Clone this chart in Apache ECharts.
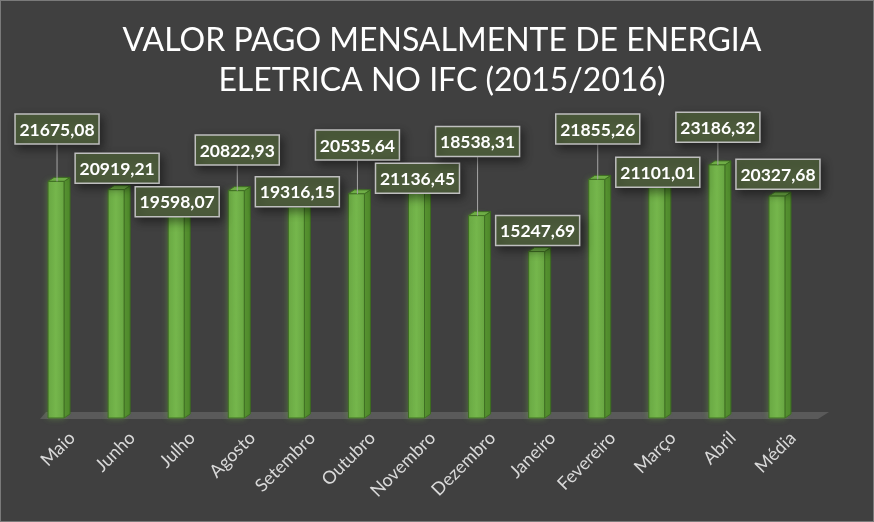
<!DOCTYPE html>
<html>
<head>
<meta charset="utf-8">
<script src="https://cdn.jsdelivr.net/npm/echarts@6/dist/echarts.min.js"></script>
<style>
  html, body { margin: 0; padding: 0; background: #404040; }
  #wrap { position: relative; width: 874px; height: 522px; }
  #chart { position: absolute; left: 0; top: 0; width: 874px; height: 522px; }
  #frame { position: absolute; left: 0; top: 0; width: 874px; height: 522px; box-sizing: border-box; border: 1px solid #7a7a7a; pointer-events: none; }
</style>
</head>
<body>
<div id="wrap"><div id="chart"></div><div id="frame"></div></div>
<script>
const titleLines = ['VALOR PAGO MENSALMENTE DE ENERGIA', 'ELETRICA NO IFC (2015/2016)'];
const categories = ['Maio', 'Junho', 'Julho', 'Agosto', 'Setembro', 'Outubro', 'Novembro', 'Dezembro', 'Janeiro', 'Fevereiro', 'Março', 'Abril', 'Média'];
const values = [21675.08, 20919.21, 19598.07, 20822.93, 19316.15, 20535.64, 21136.45, 18538.31, 15247.69, 21855.26, 21101.01, 23186.32, 20327.68];
// vertical lift (px) of each data-label box bottom above its bar top
const labelLift = [37.5, 6.4, -12.6, 25.8, 0.5, 33.9, -5.9, 59, 6, 35.5, 0.4, 22.7, 6.9];

function fmt(v) { return v.toFixed(2).replace('.', ','); }

const chart = echarts.init(document.getElementById('chart'), null, { renderer: 'canvas' });
const barData = values.map((v, i) => [i, v]);
const DX = 6, DY = 4, HALF = 8;

function renderFloor(params, api) {
  const band = api.size([1, 0])[0];
  const l = api.coord([0, 0])[0] - band / 2;
  const r = api.coord([categories.length - 1, 0])[0] + band / 2;
  const y = api.coord([0, 0])[1] + 1;
  return {
    type: 'polygon',
    shape: { points: [[l + 14, y], [r + 11, y], [r + 22, y - 7], [l + 20, y - 7]] },
    style: { fill: '#5a5a5a' }
  };
}

function renderBar(params, api) {
  const i = api.value(0), v = api.value(1);
  const top = api.coord([i, v]);
  const base = api.coord([i, 0]);
  const c = top[0], t = top[1], b = base[1];
  const x0 = c - HALF, x1 = c + HALF;
  return {
    type: 'group',
    children: [
      { type: 'polygon', shape: { points: [[x1, t], [x1 + DX, t - DY], [x1 + DX, b - DY], [x1, b]] },
        style: { fill: '#4f8a2b', stroke: '#3c6b20', lineWidth: 1 } },
      { type: 'polygon', shape: { points: [[x0, t], [x0 + DX, t - DY], [x1 + DX, t - DY], [x1, t]] },
        style: { fill: '#6fae47', stroke: '#3c6b20', lineWidth: 1 } },
      { type: 'rect', shape: { x: x0, y: t, width: x1 - x0, height: b - t },
        style: {
          fill: new echarts.graphic.LinearGradient(0, 0, 1, 0, [
            { offset: 0, color: '#69a843' }, { offset: 0.5, color: '#76b74d' }, { offset: 1, color: '#67a541' }
          ]),
          stroke: '#3f6e23', lineWidth: 1,
          shadowBlur: 6, shadowColor: 'rgba(112,173,71,0.45)'
        } }
    ]
  };
}

function renderLabel(params, api) {
  const i = api.value(0), v = api.value(1);
  const top = api.coord([i, v]);
  const c = top[0] + 1;
  const lift = labelLift[i];
  const bw = 84, bh = 30;
  const bottom = top[1] - lift;
  const children = [];
  if (lift > 12) {
    children.push({ type: 'line', shape: { x1: c, y1: bottom, x2: c, y2: top[1] },
      style: { stroke: '#a6a6a6', lineWidth: 1 } });
  }
  children.push({ type: 'rect', shape: { x: c - bw / 2, y: bottom - bh, width: bw, height: bh },
    style: { fill: '#4c5b3b', stroke: '#bfbfbf', lineWidth: 1.5,
      shadowBlur: 10, shadowOffsetX: 3, shadowOffsetY: 4, shadowColor: 'rgba(0,0,0,0.45)' } });
  children.push({ type: 'text', x: c, y: bottom - bh / 2 + 1,
    style: { text: fmt(v), fill: '#ffffff', font: 'bold 17.5px Lato', align: 'center', verticalAlign: 'middle' } });
  return { type: 'group', children };
}

function renderAxisLabel(params, api) {
  const i = api.value(0);
  const p = api.coord([i, 0]);
  return {
    type: 'text', x: p[0] + 16, y: p[1] + 17, rotation: Math.PI / 4,
    style: { text: categories[i], fill: '#d9d9d9', font: '18px Lato', align: 'right', verticalAlign: 'middle' }
  };
}

chart.setOption({
  backgroundColor: '#404040',
  animation: false,
  title: {
    text: titleLines.join('\n'),
    left: '50%', top: 16,
    textAlign: 'center',
    textStyle: { color: '#ffffff', fontFamily: 'Lato', fontWeight: 'normal', fontSize: 32, lineHeight: 40, align: 'center' }
  },
  grid: { left: 26, right: 67, top: 90.5, bottom: 104 },
  xAxis: { type: 'category', data: categories, show: false, boundaryGap: true },
  yAxis: { type: 'value', min: 0, max: 30000, show: false },
  series: [
    { type: 'custom', name: 'floor', data: [[0, 0]], renderItem: renderFloor, z: 1, silent: true },
    { type: 'custom', name: 'Valor', data: barData, encode: { x: 0, y: 1 }, renderItem: renderBar, z: 2 },
    { type: 'custom', name: 'labels', data: barData, encode: { x: 0, y: 1 }, renderItem: renderLabel, z: 3 },
    { type: 'custom', name: 'axis', data: barData, encode: { x: 0, y: 1 }, renderItem: renderAxisLabel, z: 3 }
  ]
});
</script>
</body>
</html>
